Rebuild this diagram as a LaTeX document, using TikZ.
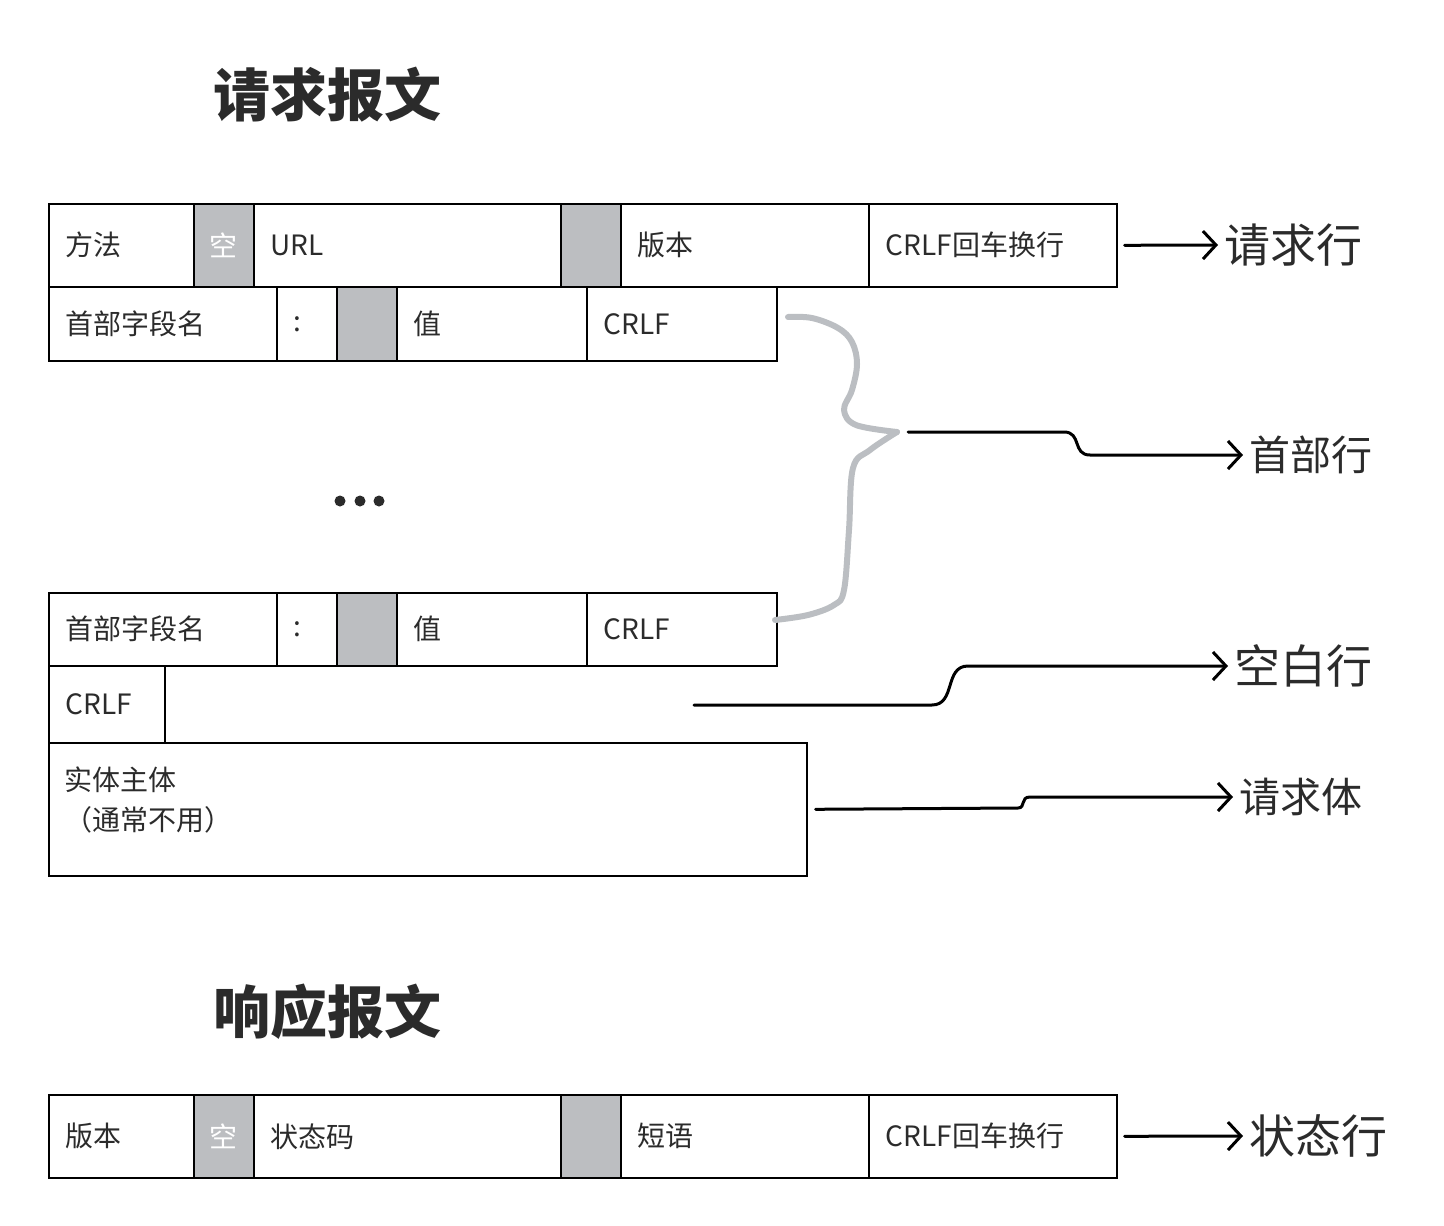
\documentclass[tikz,border=0pt]{standalone}
\usepackage{fontspec}
\setmainfont{Noto Sans CJK SC}
\usepackage{xcolor}
\usepackage{tikz}
\usetikzlibrary{arrows.meta,positioning}
\definecolor{ink}{HTML}{2B2B2B}
\definecolor{cellgray}{HTML}{BCBEC1}
\definecolor{bracegray}{HTML}{BBBEC2}
\newcommand\cellfont{\fontsize{28}{40}\selectfont}

\begin{document}
\begin{tikzpicture}[x=1pt, y=-1pt, >={Straight Barb[length=13pt,width=28pt]},
cell/.style={draw=black, line width=1.6pt, anchor=north west, inner xsep=17pt, inner ysep=0pt, align=left, font=\cellfont, text=ink},
gap/.style={cell, fill=cellgray, align=center, inner xsep=0pt, text=white},
title/.style={font=\fontsize{57}{64}\selectfont\bfseries, text=ink, inner sep=0pt},
tag/.style={anchor=west, inner xsep=6pt, inner ysep=2pt, text=ink, font=\fontsize{46}{50}\selectfont},
tagsm/.style={tag, font=\fontsize{41}{46}\selectfont},
conn/.style={->, line width=3pt, line cap=round}]
\useasboundingbox (0,0) rectangle (1444,1226);
% request message
\node[title, anchor=west] (reqtitle) at (213,95) {请求报文};
\node[cell, minimum width=145pt, minimum height=83pt, text width=111pt] (method) at (48,203) {方法};
\node[gap, minimum width=60pt, minimum height=83pt] (sp1) at (193,203) {空};
\node[cell, minimum width=307pt, minimum height=83pt, text width=273pt] (url) at (253,203) {URL};
\node[gap, minimum width=60pt, minimum height=83pt] (sp2) at (560,203) {};
\node[cell, minimum width=248pt, minimum height=83pt, text width=214pt] (ver) at (620,203) {版本};
\node[cell, minimum width=248pt, minimum height=83pt, text width=214pt] (crlf1) at (868,203) {CRLF回车换行};
% header lines
\node[cell, minimum width=228pt, minimum height=74pt, text width=194pt] (hname1) at (48,286) {首部字段名};
\node[cell, minimum width=60pt, minimum height=74pt, text width=26pt] (hcolon1) at (276,286) {:};
\node[gap, minimum width=60pt, minimum height=74pt] (hsp1) at (336,286) {};
\node[cell, minimum width=190pt, minimum height=74pt, text width=156pt] (hval1) at (396,286) {值};
\node[cell, minimum width=190pt, minimum height=74pt, text width=156pt] (hcrlf1) at (586,286) {CRLF};
\foreach \dx in {340,360,379} \fill[ink] (\dx,501) circle (5.5pt);
\node[cell, minimum width=228pt, minimum height=73pt, text width=194pt] (hname2) at (48,592) {首部字段名};
\node[cell, minimum width=60pt, minimum height=73pt, text width=26pt] (hcolon2) at (276,592) {:};
\node[gap, minimum width=60pt, minimum height=73pt] (hsp2) at (336,592) {};
\node[cell, minimum width=190pt, minimum height=73pt, text width=156pt] (hval2) at (396,592) {值};
\node[cell, minimum width=190pt, minimum height=73pt, text width=156pt] (hcrlf2) at (586,592) {CRLF};
\node[cell, minimum width=116pt, minimum height=77pt, text width=82pt] (blank) at (48,665) {CRLF};
\node[cell, minimum width=758pt, minimum height=133pt] (body) at (48,742) {};
\node[anchor=west, align=left, inner sep=0pt, font=\cellfont, text=ink] (bodytxt) at (64,800) {实体主体\\（通常不用）};
% brace over the header lines
\draw[bracegray, line width=6pt, line cap=round, line join=round] plot[smooth, tension=0.6] coordinates {(788,317) (812,318) (838,328) (852,342) (857,364) (852,390) (844,410) (856,425) (897,432)};
\draw[bracegray, line width=6pt, line cap=round, line join=round] plot[smooth, tension=0.6] coordinates {(897,432) (870,450) (853,468) (849,530) (844,590) (834,605) (808,615) (775,620)};
\coordinate (bracetip) at (900,432);
\coordinate (blankstart) at (694,705);
% labels
\node[tag] (lreqline) at (1218,245) {请求行};
\node[tagsm] (lhead) at (1243,455) {首部行};
\node[tag] (lblank) at (1228,666) {空白行};
\node[tagsm] (lbody) at (1233,797) {请求体};
\draw[conn] ([xshift=7pt]crlf1.east) -- (lreqline.west);
\draw[conn] ([xshift=8pt]bracetip) -- (1064,432) .. controls (1082,432) and (1072,455) .. (1090,455) -- (lhead.west);
\draw[conn] (blankstart) -- (932,705) .. controls (956,705) and (944,666) .. (968,666) -- (lblank.west);
\draw[conn] ([xshift=8pt]body.east) -- (1018,808) .. controls (1026,808) and (1020,797) .. (1030,797) -- (lbody.west);
% response message
\node[title, anchor=west] (restitle) at (213,1012) {响应报文};
\node[cell, minimum width=145pt, minimum height=83pt, text width=111pt] (rver) at (48,1094) {版本};
\node[gap, minimum width=60pt, minimum height=83pt] (rsp1) at (193,1094) {空};
\node[cell, minimum width=307pt, minimum height=83pt, text width=273pt] (status) at (253,1094) {状态码};
\node[gap, minimum width=60pt, minimum height=83pt] (rsp2) at (560,1094) {};
\node[cell, minimum width=248pt, minimum height=83pt, text width=214pt] (phrase) at (620,1094) {短语};
\node[cell, minimum width=248pt, minimum height=83pt, text width=214pt] (rcrlf) at (868,1094) {CRLF回车换行};
\node[tag] (lstatus) at (1243,1136) {状态行};
\draw[conn] ([xshift=7pt]rcrlf.east) -- (lstatus.west);
\end{tikzpicture}
\end{document}
